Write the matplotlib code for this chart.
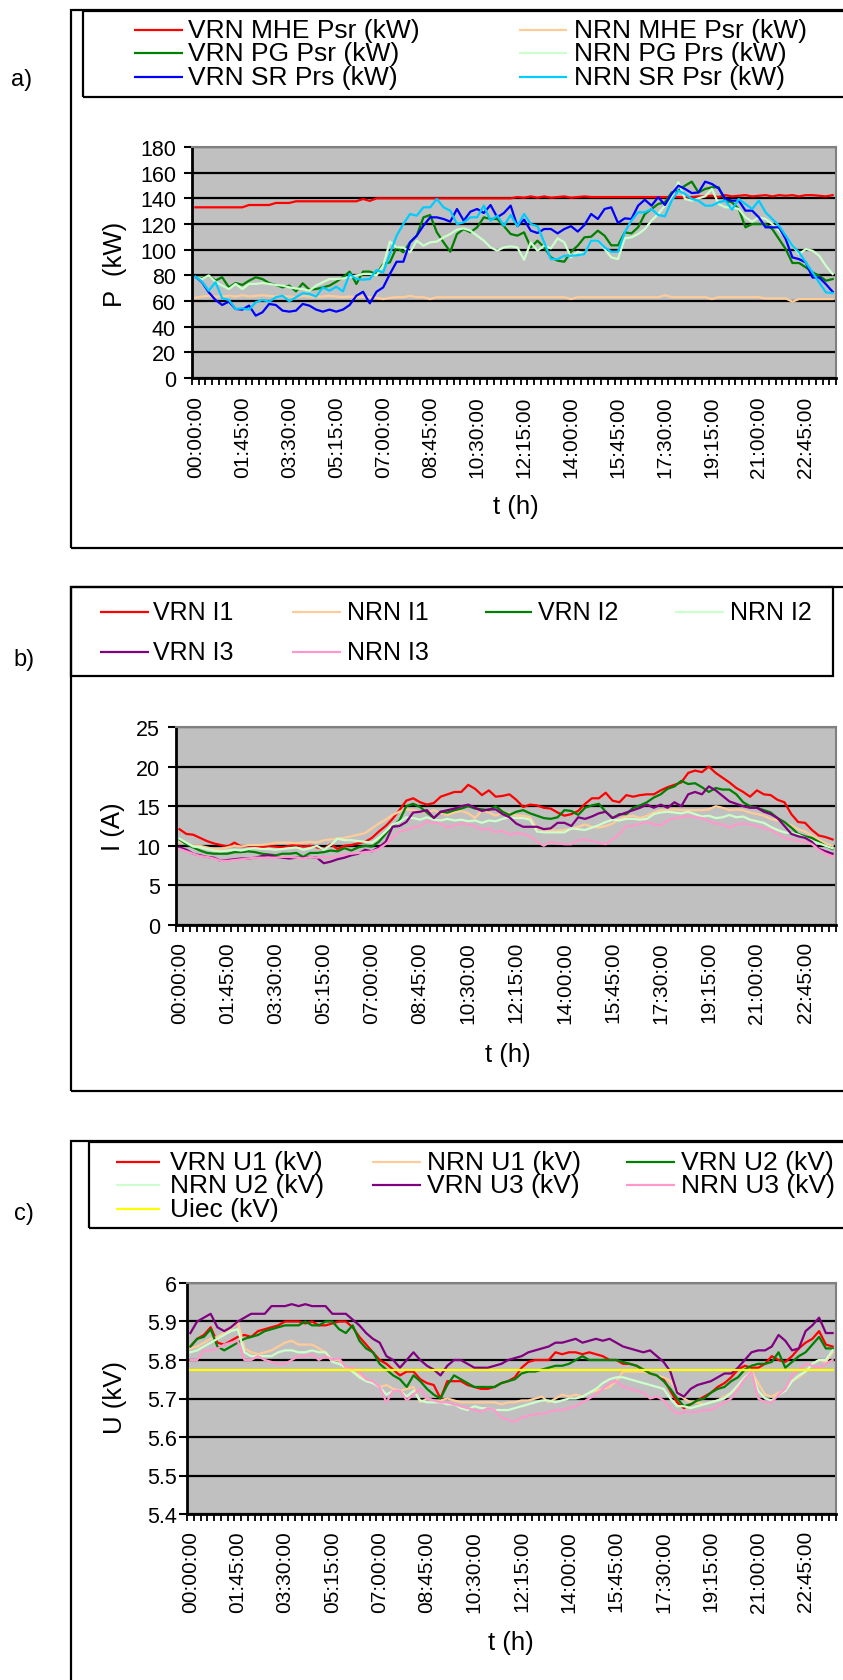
import matplotlib
matplotlib.use('Agg')
import matplotlib.pyplot as plt
from matplotlib.lines import Line2D
from matplotlib.patches import Rectangle
import numpy as np

plt.rcParams['font.family'] = ['Liberation Sans', 'DejaVu Sans']

# ---------------- categories ----------------
times = [f"{h:02d}:{m:02d}:00" for h in range(24) for m in (0, 15, 30, 45)]
label_step = 7

# ---------------- panel a: P (kW) ----------------
vrn_mhe = [133, 133, 133, 133, 133, 133, 133, 133,
           134.8, 134.8, 134.8, 134.8, 136.4, 136.4, 136.4,
           137.7, 137.7, 137.7, 137.7, 137.7, 137.7, 137.7, 137.7, 137.7, 137.7,
           139.5, 138,
           140, 140, 140, 140, 140, 140, 140, 140, 140, 140, 140, 140, 140, 140,
           140, 140, 140, 140, 140, 140, 140,
           141, 140.5, 141.5, 140.5, 141.5, 140.5, 141, 141.5, 140.5, 141, 141.5, 141,
           141, 141, 141, 141, 141, 141, 141, 141, 141, 141, 141, 141, 141, 140.5,
           141, 141.5,
           141.5, 142, 141, 142.5, 141.5, 142, 142.5, 141.5, 142, 142.5, 141.5, 142.5,
           142, 142.5, 141.5, 142.5, 142.5, 142, 141.5, 142.5]
nrn_mhe = [62.5, 63.5, 64, 63.5, 63.5, 64, 63.5, 64.5, 63.5, 64,
           64.5, 64, 63.5, 64, 63.5, 63, 64, 63.5, 63, 63.5,
           64, 63.5, 63, 63.5, 63, 63.5, 63, 62.5, 61.5, 62.5,
           63, 63, 64, 63, 63, 61.5, 63, 63, 63, 63,
           63, 63, 63, 63, 63, 63, 63, 63, 63, 63,
           63, 63, 63, 63, 63, 63, 61.5, 63, 63, 63,
           63, 63, 63, 63, 63, 63, 63, 63, 63, 63,
           64.5, 63, 63, 63, 63, 63, 63, 61.5, 63, 63,
           63, 63, 63, 63, 63, 62, 62, 62, 62, 59.5,
           61.5, 61.5, 61.5, 61.5, 61.5, 61.5]
vrn_pg = [78.5, 77.8, 79.9, 76, 78.5, 70.6, 74, 72.5, 75.8, 78.5,
          77.1, 74, 72.5, 70.6, 72, 67.5, 73.8, 68.8, 69.3, 70.6,
          72, 75, 78.5, 82.9, 73.3, 82.9, 82.9, 81, 88.8, 90.1,
          101.8, 97.9, 105.7, 110.9, 125.2, 127, 113.5, 105.7, 98.4, 112.2,
          116.1, 113.5, 117.4, 125.2, 123.9,
          123.9, 118.3, 112.2, 110.9, 113.5, 101.8, 107, 101.8, 94, 91.4,
          90.6, 98.4, 103.1, 109.6, 110.1, 114.8, 110.9, 103.4, 103.4, 113.5,
          112.7, 117.4, 127.8, 131.7, 135.6, 136.9, 144.6, 146, 149.9, 153,
          144.6, 147.3, 148.6, 148.6, 138.2, 136.9, 131.7, 117.4, 120, 120,
          120, 116.1, 108.3, 100.5, 89.6, 89.6, 86.2, 82.3, 79.7, 75.8, 77.1]
nrn_pg = [78.5, 77.1, 79.9, 75, 72, 69.3, 73.3, 69.3, 73.3, 73.3,
          74, 73.3, 72.5, 72, 70.6, 69.8, 69.3, 68, 72, 74.6,
          77.1, 77.1, 77.6, 78.5, 79.9, 81, 81, 79.9, 87.6, 106.3,
          101.8, 101.8, 97.9, 107, 103.1, 105.7, 106.3, 109.6, 112.2, 115.6,
          116.6, 114.8, 110.9, 107, 101.8,
          99.2, 101.8, 102.6, 101.8, 92.1, 105.7, 99.2, 103.1, 101, 108.8,
          105.7, 94, 98.4, 96.6, 107, 107, 100.5, 94, 92.6, 108.8,
          109.6, 112.2, 116.1, 122.6, 127.8, 134.3, 140.9, 152.6, 139.5, 138.2,
          140, 141.6, 147.3, 135.6, 133, 133, 131.7, 125.2, 121.8, 125.2,
          123.9, 120, 114.8, 109.6, 103.1, 96.6, 100.5, 99.2, 95.2, 87.4, 81]
vrn_sr = [79, 74.6, 66.8, 60.8, 56.9, 59.5, 53.8, 53.3, 56.4, 48.6,
          51.2, 57.7, 56.9, 52.5, 51.7, 52.5, 57.7, 56.4, 53.3, 51.7,
          53.3, 51.7, 53.3, 56.9, 64.1, 67.2, 58.2, 67.2, 70.6, 81,
          90.6, 90.6, 105.7, 110.9, 118.7, 125.2, 125.2, 123.9, 121.8, 131.7,
          122.6, 129.6, 131.7, 128.6, 134.8,
          125.2, 128.6, 134.3, 118.3, 123.4, 114.8, 113, 116.1, 116.1, 112.7,
          116.1, 118.3, 114.1, 119.2, 127.8, 123.9, 131.7, 133, 120.8, 124.4,
          123.9, 134.3, 138.9, 134.3, 140.9, 134.8, 143.4, 149.9, 147.3, 144.1,
          144.6, 153, 151.2, 147.8, 139.5, 138.2, 138.2, 130.4, 130.4, 125.2,
          117.4, 117.4, 117.4, 108.3, 94, 92.6, 90, 78.3, 78.3, 73.1, 67.2]
nrn_sr = [79, 75, 68, 74.6, 62.1, 60.8, 53.8, 54.3, 53.3, 59,
          60.8, 59.5, 62.9, 64.1, 59.8, 62.9, 66, 65.5, 63.4, 70.6,
          68, 71.1, 67.5, 81, 77.1, 76.6, 77.1, 84.1, 82.3, 96.6,
          110.9, 120, 127.8, 126.5, 133, 133, 139.5, 133, 130.4, 120,
          121.3, 125.2, 125.2, 134.3, 122.6,
          126.5, 118.7, 127, 118.3, 127.8, 120, 118.3, 105.7, 92.6, 92.6,
          95.2, 95.2, 95.7, 96.6, 107, 107, 101.8, 98.4, 98.4, 113.5,
          122.6, 129.1, 129.1, 131.7, 127, 126, 138.2, 146, 143.4, 139.5,
          138.2, 134.3, 134.3, 136.9, 138.2, 131.2, 139.5, 135.6, 131.7, 138.2,
          129.1, 123.9, 118.7, 110.9, 103.1, 97.9, 90, 82.3, 74.4, 66.7, 66.2]

# ---------------- panel b: I (A) ----------------
vrn_i1 = [12.1, 11.5, 11.4, 11, 10.6, 10.3, 10.1, 9.9, 10.4, 9.9,
          10, 10, 9.8, 10, 9.9, 9.8, 10, 10.1, 9.9, 10,
          9.8, 9.6, 10.2, 9.6, 10, 10.1, 10.3, 10.5, 11, 11.8,
          12.5, 13.4, 14.5, 15.7, 16, 15.5, 15.2, 15.4, 16.2, 16.5,
          16.8, 16.8, 17.7, 17.2, 16.4, 17, 16.2, 16.3, 16.5, 15.8,
          14.9, 15.2, 15.1, 14.8, 14.7, 14.2, 13.8, 14, 14.4, 15.3,
          16, 16, 16.7, 15.7, 15.5, 16.4, 16.2, 16.4, 16.5, 16.5,
          17, 17.4, 17.7, 18, 19.2, 19.5, 19.3, 20, 19.2, 18.6,
          18, 17.3, 16.8, 16.2, 17, 16.5, 16.4, 15.8, 15.5, 14,
          13, 12.9, 12, 11.3, 11.1, 10.8]
nrn_i1 = [10.5, 10.3, 10, 10, 9.8, 9.6, 9.6, 9.8, 10, 9.9,
          10.1, 10.1, 10.1, 10.2, 10.4, 10.4, 10.4, 10.3, 10.4, 10.5,
          10.4, 10.7, 10.8, 10.9, 11, 11.2, 11.4, 11.6, 12.2, 12.8,
          13.3, 13.9, 14.3, 14.6, 14.5, 14.3, 14.2, 14.5, 14.1, 13.9,
          14.2, 14.4, 14.1, 13.5, 14.5, 14.2, 13.8, 14.2, 14.1, 13.8,
          13.8, 13.6, 12.2, 12, 12, 11.9, 12, 12.1, 12.4, 12.7,
          12.4, 12.3, 12.5, 12.8, 13.4, 13.7, 13.8, 13.5, 13.8, 14.2,
          14.5, 14.5, 14.6, 14.5, 14.5, 14.5, 14.5, 14.6, 15, 14.8,
          14.5, 14.6, 14.5, 14.2, 14, 13.8, 13.4, 13.2, 12.9, 12.6,
          12.1, 11.8, 11.3, 10.8, 10.3, 10]
vrn_i2 = [10.8, 10.2, 9.8, 9.4, 9.1, 9, 9, 9, 9.2, 9.2,
          9.3, 9.2, 9, 8.9, 8.8, 9, 9, 9.1, 8.6, 9.1,
          9.1, 9.2, 9.4, 9.3, 9.7, 9.4, 9.8, 10, 9.9, 10.5,
          11.5, 12.5, 13.2, 15, 15.3, 14.9, 14.2, 13.5, 14.3, 14.2,
          14.5, 14.7, 15, 14.7, 14.6, 14.5, 15, 14.3, 13.9, 14.3,
          14.5, 14.1, 13.8, 13.5, 13.4, 13.6, 14.5, 14.4, 13.9, 14.8,
          15.1, 15.3, 14.3, 13.5, 14, 14, 14.8, 15.1, 15.5, 16.1,
          16.5, 17.2, 17.5, 18.2, 17.8, 17.9, 17.4, 16.8, 17.3, 17.1,
          17.1, 16.5, 15.5, 15, 14.8, 14.5, 14.2, 13.5, 13, 12.3,
          11.5, 11.2, 11, 10.5, 10, 9.6]
nrn_i2 = [10.9, 10.4, 9.9, 9.8, 9.6, 9.4, 9.3, 9.4, 9.5, 9.4,
          9.6, 9.7, 9.6, 9.6, 9.5, 9.6, 9.7, 9.8, 9.5, 9.7,
          10, 9.5, 10.1, 10.9, 10.7, 10.7, 10.6, 10.5, 10.4, 11,
          11.8, 12.7, 13, 13.6, 13.5, 13.3, 13.6, 13.3, 13.2, 13.4,
          13.2, 13.3, 13.1, 13.2, 12.9, 13.2, 13.1, 13.4, 13.6, 13.5,
          13.5, 13.3, 11.8, 11.7, 11.7, 11.7, 11.7, 12.2, 12.1, 12,
          12.3, 12.6, 13, 13.3, 13.2, 13.4, 13.4, 13.3, 13.4, 14,
          14.2, 14.3, 14.2, 14.1, 14.3, 14, 13.7, 13.8, 13.5, 13.6,
          13.9, 13.6, 13.7, 13.3, 13.1, 12.9, 12.4, 12, 11.7, 11.6,
          11.4, 11, 10.6, 10.3, 10, 9.7]
vrn_i3 = [9.8, 9.5, 9, 8.8, 8.6, 8.5, 8.1, 8.2, 8.3, 8.4,
          8.4, 8.5, 8.7, 8.8, 8.6, 8.5, 8.4, 8.5, 8.5, 8.6,
          8.5, 7.8, 8, 8.3, 8.5, 8.8, 9, 9.5, 9.3, 9.8,
          10.5, 12.4, 12.5, 13, 14.2, 14.3, 14.5, 13.5, 14.3, 14.5,
          14.7, 15, 15.2, 14.8, 14.4, 14.6, 14.6, 14, 13.6, 12.8,
          12.4, 12.4, 12.4, 12.1, 12.2, 12.9, 12.9, 12.5, 13.6, 13.4,
          13.7, 14.1, 14.3, 13.5, 13.9, 14.2, 14.5, 14.8, 15.2, 14.8,
          15.2, 14.8, 15.5, 15, 16.5, 16.8, 16.5, 17.5, 17, 16.3,
          15.6, 15.3, 15, 14.8, 14.8, 14.3, 14, 13.5, 12.5, 11.5,
          11.2, 11, 10.5, 9.6, 9.3, 9]
nrn_i3 = [9.6, 9.3, 9, 8.7, 8.6, 8.4, 8.1, 8.1, 8.2, 8.3,
          8.4, 8.5, 8.5, 8.5, 8.5, 8.6, 8.6, 8.5, 8.4, 8.6,
          8.5, 8.6, 8.5, 8.7, 8.9, 9, 9.1, 9.2, 9.3, 9.6,
          10.2, 11, 11.8, 12, 12.3, 12.5, 13.1, 12.9, 12.8, 12.3,
          12.6, 12.8, 12.7, 12.5, 12, 12.2, 11.7, 11.9, 11.4, 11.6,
          11.5, 11.2, 10.5, 10, 10.5, 10.3, 10.2, 10.2, 10.7, 10.8,
          10.6, 10.4, 10.2, 10.8, 11.5, 12.5, 12.5, 12.8, 13, 12.7,
          12.6, 13.2, 13.5, 13.6, 13.8, 13.6, 13.5, 13.1, 12.8, 12.7,
          12.3, 12.7, 12.8, 12.7, 12.5, 12.2, 12, 11.5, 11, 10.8,
          10.6, 10.5, 10.2, 9.5, 9, 8.6]

# ---------------- panel c: U (kV) ----------------
vrn_u1 = [5.835, 5.855, 5.865, 5.885, 5.845, 5.84, 5.85, 5.86, 5.865, 5.86,
          5.875, 5.88, 5.885, 5.89, 5.9, 5.9, 5.9, 5.895, 5.9, 5.89,
          5.89, 5.895, 5.9, 5.9, 5.885, 5.86, 5.84, 5.82, 5.8, 5.79,
          5.775, 5.76, 5.77, 5.77, 5.75, 5.74, 5.735, 5.70, 5.745, 5.745,
          5.745, 5.735, 5.73, 5.725, 5.725, 5.73, 5.74, 5.745, 5.755, 5.78,
          5.795, 5.80, 5.80, 5.80, 5.82, 5.815, 5.82, 5.82, 5.815, 5.82,
          5.815, 5.81, 5.80, 5.80, 5.79, 5.79, 5.785, 5.775, 5.765, 5.76,
          5.75, 5.72, 5.69, 5.675, 5.685, 5.695, 5.705, 5.715, 5.73, 5.74,
          5.755, 5.775, 5.785, 5.78, 5.78, 5.79, 5.81, 5.80, 5.795, 5.81,
          5.83, 5.845, 5.855, 5.875, 5.84, 5.835]
nrn_u1 = [5.83, 5.835, 5.845, 5.855, 5.86, 5.87, 5.88, 5.90, 5.83, 5.82,
          5.815, 5.82, 5.825, 5.835, 5.845, 5.85, 5.84, 5.84, 5.84, 5.83,
          5.82, 5.80, 5.80, 5.78, 5.77, 5.76, 5.75, 5.74, 5.73, 5.735,
          5.725, 5.72, 5.725, 5.73, 5.69, 5.70, 5.695, 5.695, 5.70, 5.695,
          5.69, 5.69, 5.69, 5.69, 5.69, 5.69, 5.685, 5.69, 5.69, 5.695,
          5.695, 5.70, 5.705, 5.69, 5.70, 5.71, 5.705, 5.71, 5.705, 5.715,
          5.72, 5.725, 5.73, 5.745, 5.77, 5.77, 5.77, 5.77, 5.765, 5.76,
          5.755, 5.745, 5.72, 5.70, 5.69, 5.69, 5.685, 5.69, 5.695, 5.705,
          5.715, 5.73, 5.75, 5.77, 5.74, 5.71, 5.705, 5.715, 5.72, 5.745,
          5.755, 5.77, 5.79, 5.80, 5.795, 5.82]
vrn_u2 = [5.835, 5.855, 5.86, 5.88, 5.835, 5.825, 5.835, 5.845, 5.855, 5.86,
          5.865, 5.875, 5.88, 5.885, 5.89, 5.89, 5.89, 5.9, 5.89, 5.89,
          5.9, 5.9, 5.88, 5.87, 5.89, 5.85, 5.83, 5.82, 5.79, 5.775,
          5.76, 5.75, 5.73, 5.76, 5.745, 5.725, 5.71, 5.70, 5.735, 5.76,
          5.75, 5.74, 5.73, 5.73, 5.73, 5.73, 5.74, 5.745, 5.75, 5.765,
          5.77, 5.77, 5.775, 5.78, 5.785, 5.785, 5.79, 5.80, 5.81, 5.80,
          5.80, 5.80, 5.80, 5.80, 5.795, 5.79, 5.785, 5.775, 5.765, 5.76,
          5.745, 5.725, 5.70, 5.68, 5.685, 5.695, 5.70, 5.715, 5.725, 5.73,
          5.745, 5.755, 5.775, 5.785, 5.79, 5.79, 5.795, 5.82, 5.78, 5.795,
          5.81, 5.82, 5.84, 5.86, 5.83, 5.83]
nrn_u2 = [5.82, 5.825, 5.835, 5.845, 5.855, 5.865, 5.875, 5.88, 5.82, 5.81,
          5.81, 5.81, 5.81, 5.82, 5.825, 5.825, 5.82, 5.82, 5.825, 5.82,
          5.82, 5.795, 5.79, 5.78, 5.77, 5.755, 5.745, 5.74, 5.73, 5.71,
          5.72, 5.72, 5.705, 5.72, 5.695, 5.69, 5.69, 5.69, 5.685, 5.685,
          5.675, 5.67, 5.68, 5.675, 5.675, 5.67, 5.67, 5.67, 5.675, 5.68,
          5.685, 5.69, 5.695, 5.695, 5.69, 5.695, 5.70, 5.70, 5.705, 5.715,
          5.725, 5.74, 5.75, 5.755, 5.755, 5.75, 5.745, 5.74, 5.735, 5.73,
          5.725, 5.70, 5.68, 5.68, 5.675, 5.68, 5.685, 5.69, 5.695, 5.70,
          5.715, 5.735, 5.755, 5.77, 5.72, 5.70, 5.695, 5.71, 5.72, 5.745,
          5.76, 5.77, 5.79, 5.80, 5.80, 5.825]
vrn_u3 = [5.87, 5.90, 5.91, 5.92, 5.885, 5.875, 5.885, 5.90, 5.91, 5.92,
          5.92, 5.92, 5.94, 5.94, 5.94, 5.945, 5.94, 5.945, 5.94, 5.94,
          5.94, 5.92, 5.92, 5.92, 5.905, 5.89, 5.87, 5.855, 5.845, 5.81,
          5.80, 5.78, 5.80, 5.82, 5.80, 5.785, 5.775, 5.76, 5.785, 5.80,
          5.80, 5.79, 5.78, 5.78, 5.78, 5.785, 5.79, 5.80, 5.805, 5.81,
          5.82, 5.825, 5.83, 5.835, 5.845, 5.845, 5.85, 5.855, 5.845, 5.85,
          5.855, 5.85, 5.855, 5.845, 5.835, 5.83, 5.825, 5.82, 5.825, 5.81,
          5.795, 5.77, 5.715, 5.705, 5.725, 5.735, 5.74, 5.745, 5.755, 5.765,
          5.765, 5.78, 5.80, 5.82, 5.825, 5.825, 5.835, 5.865, 5.85, 5.825,
          5.83, 5.875, 5.89, 5.91, 5.87, 5.87]
nrn_u3 = [5.80, 5.80, 5.825, 5.825, 5.83, 5.84, 5.845, 5.85, 5.80, 5.80,
          5.81, 5.80, 5.795, 5.79, 5.79, 5.80, 5.81, 5.81, 5.815, 5.80,
          5.81, 5.80, 5.805, 5.78, 5.78, 5.77, 5.75, 5.745, 5.73, 5.69,
          5.72, 5.72, 5.695, 5.71, 5.725, 5.70, 5.695, 5.69, 5.69, 5.685,
          5.68, 5.675, 5.67, 5.665, 5.675, 5.67, 5.65, 5.645, 5.64, 5.65,
          5.655, 5.66, 5.66, 5.665, 5.67, 5.67, 5.675, 5.68, 5.69, 5.70,
          5.71, 5.725, 5.74, 5.745, 5.73, 5.725, 5.72, 5.715, 5.70, 5.705,
          5.695, 5.675, 5.66, 5.665, 5.665, 5.665, 5.67, 5.67, 5.68, 5.69,
          5.70, 5.725, 5.75, 5.77, 5.70, 5.69, 5.69, 5.71, 5.725, 5.76,
          5.775, 5.79, 5.785, 5.78, 5.79, 5.80]
u_iec = [5.775] * 96

# ---------------- colours ----------------
C_RED, C_PEACH, C_GREEN, C_LGREEN = '#FF0000', '#FFCC99', '#008000', '#CCFFCC'
C_BLUE, C_CYAN, C_PURPLE, C_PINK, C_YELLOW = '#0000FF', '#00CCFF', '#800080', '#FF99CC', '#FFFF00'

W, H = 843, 1681
fig = plt.figure(figsize=(W / 100, H / 100), dpi=100)
fig.patch.set_facecolor('white')


def fx(x):
    return x / W


def fy(y):
    return 1 - y / H


def box(x0, y0, x1, y1, lw=1.6):
    fig.add_artist(Rectangle((fx(x0), fy(y1)), (x1 - x0) / W, (y1 - y0) / H,
                             transform=fig.transFigure, fill=False, ec='black',
                             lw=lw, clip_on=False, zorder=0))


def legend_entry(x1, x2, xt, y, color, label, fs):
    fig.add_artist(Line2D([fx(x1), fx(x2)], [fy(y), fy(y)], transform=fig.transFigure,
                          color=color, lw=1.6, solid_capstyle='butt'))
    fig.text(fx(xt), fy(y), label, ha='left', va='center', fontsize=fs)


def make_axes(left, top, right, bottom, ylim, yticks, ytl, ypad, xpad):
    ax = fig.add_axes([fx(left), fy(bottom), (right - left) / W, (bottom - top) / H])
    ax.set_facecolor('#C0C0C0')
    ax.set_xlim(-0.5, 95.5)
    ax.set_ylim(*ylim)
    ax.set_yticks(yticks)
    ax.set_yticklabels(ytl, fontsize=15.5)
    ax.yaxis.grid(True, color='black', lw=1.6)
    ax.set_axisbelow(True)
    major = list(range(0, 96, label_step))
    ax.set_xticks(major)
    ax.set_xticklabels([times[i] for i in major], rotation=90, fontsize=15,
                       va='top', ha='center')
    ax.set_xticks(np.arange(-0.5, 96, 1), minor=True)
    ax.tick_params(axis='x', which='major', length=0, pad=xpad)
    ax.tick_params(axis='x', which='minor', length=5, width=1.3, direction='out')
    ax.tick_params(axis='y', which='major', length=6, width=1.5, direction='out', pad=ypad)
    for s in ('left', 'bottom'):
        ax.spines[s].set_color('black')
        ax.spines[s].set_linewidth(2)
    for s in ('top', 'right'):
        ax.spines[s].set_color('#808080')
        ax.spines[s].set_linewidth(1.5)
    return ax


x = np.arange(96)

# ======== panel a ========
box(71, 11, 900, 549)
box(83, 12, 900, 98)
fig.text(fx(22), fy(80), 'a)', ha='center', va='center', fontsize=17)
axa = make_axes(192, 148, 836, 379, (0, 180), list(range(0, 181, 20)),
                [str(v) for v in range(0, 181, 20)], 5.5, 12.5)
series_a = [(vrn_mhe, C_RED, 'VRN MHE Psr (kW)'), (nrn_mhe, C_PEACH, 'NRN MHE Psr (kW)'),
            (vrn_pg, C_GREEN, 'VRN PG Psr (kW)'), (nrn_pg, C_LGREEN, 'NRN PG Prs (kW)'),
            (vrn_sr, C_BLUE, 'VRN SR Prs (kW)'), (nrn_sr, C_CYAN, 'NRN SR Psr (kW)')]
for vals, c, lab in series_a:
    axa.plot(x, vals, color=c, lw=1.6)
cols_a = [(134, 183, 188), (519, 567, 574)]
rows_a = [31, 54, 78]
for k, (vals, c, lab) in enumerate(series_a):
    x1, x2, xt = cols_a[k % 2]
    legend_entry(x1, x2, xt, rows_a[k // 2], c, lab, 19)
fig.text(fx(115), fy(264), 'P  (kW)', rotation=90, ha='center', va='center', fontsize=18.5)
fig.text(fx(516), fy(507), 't (h)', ha='center', va='center', fontsize=18.5)

# ======== panel b ========
box(71, 588, 900, 1092)
box(71, 588, 833, 677)
fig.text(fx(24), fy(660), 'b)', ha='center', va='center', fontsize=17)
axb = make_axes(176, 728, 836, 926, (0, 25), list(range(0, 26, 5)),
                [str(v) for v in range(0, 26, 5)], 5.5, 11.5)
series_b = [(vrn_i1, C_RED, 'VRN I1'), (nrn_i1, C_PEACH, 'NRN I1'),
            (vrn_i2, C_GREEN, 'VRN I2'), (nrn_i2, C_LGREEN, 'NRN I2'),
            (vrn_i3, C_PURPLE, 'VRN I3'), (nrn_i3, C_PINK, 'NRN I3')]
for vals, c, lab in series_b:
    axb.plot(x, vals, color=c, lw=1.6)
cols_b = [(100, 149, 153), (292, 341, 347), (485, 532, 538), (675, 724, 730)]
rows_b = [613, 653]
for k, (vals, c, lab) in enumerate(series_b):
    x1, x2, xt = cols_b[k % 4]
    legend_entry(x1, x2, xt, rows_b[k // 4], c, lab, 18)
fig.text(fx(113), fy(827), 'I (A)', rotation=90, ha='center', va='center', fontsize=18.5)
fig.text(fx(508), fy(1055), 't (h)', ha='center', va='center', fontsize=18.5)

# ======== panel c ========
box(71, 1142, 900, 1760)
box(89, 1143, 900, 1229)
fig.text(fx(24), fy(1214), 'c)', ha='center', va='center', fontsize=17)
uticks = [5.4, 5.5, 5.6, 5.7, 5.8, 5.9, 6.0]
axc = make_axes(187, 1284, 836, 1515, (5.4, 6.0), uticks,
                ['5.4', '5.5', '5.6', '5.7', '5.8', '5.9', '6'], 1.0, 11.5)
series_c = [(vrn_u1, C_RED, 'VRN U1 (kV)'), (nrn_u1, C_PEACH, 'NRN U1 (kV)'),
            (vrn_u2, C_GREEN, 'VRN U2 (kV)'), (nrn_u2, C_LGREEN, 'NRN U2 (kV)'),
            (vrn_u3, C_PURPLE, 'VRN U3 (kV)'), (nrn_u3, C_PINK, 'NRN U3 (kV)'),
            (u_iec, C_YELLOW, 'Uiec (kV)')]
for vals, c, lab in series_c:
    axc.plot(x, vals, color=c, lw=1.6)
cols_c = [(116, 160, 170), (372, 421, 427), (626, 675, 681)]
rows_c = [1163, 1186, 1210]
for k, (vals, c, lab) in enumerate(series_c):
    x1, x2, xt = cols_c[k % 3]
    legend_entry(x1, x2, xt, rows_c[k // 3], c, lab, 19)
fig.text(fx(115), fy(1397), 'U (kV)', rotation=90, ha='center', va='center', fontsize=18.5)
fig.text(fx(511), fy(1643), 't (h)', ha='center', va='center', fontsize=18.5)

fig.savefig('out.png', dpi=100)
